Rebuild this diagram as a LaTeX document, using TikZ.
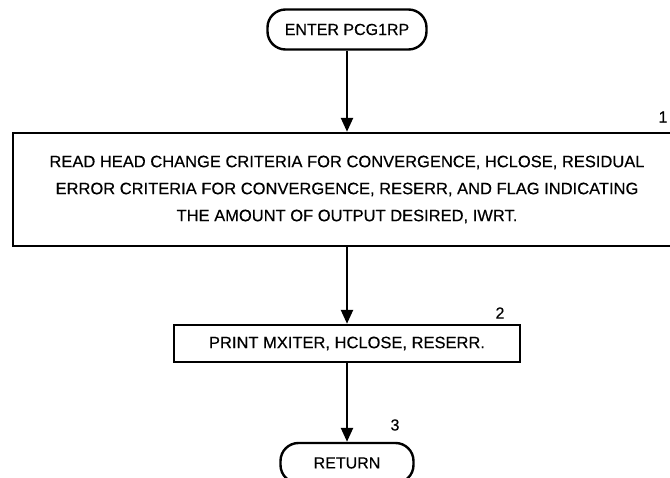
\documentclass[tikz,border=0pt]{standalone}
\usepackage{fontspec}
\setmainfont{Liberation Sans}
\newfontfamily\diafont[FakeBold=0.4]{Liberation Sans}
\usetikzlibrary{arrows.meta}
\begin{document}
\begin{tikzpicture}[x=1pt,y=-1pt,line width=2.4pt,
  term/.style={draw, rounded corners=18pt, minimum width=159pt, minimum height=40pt, inner sep=0pt, font=\diafont\fontsize{16}{19}\selectfont},
  procbox/.style={draw, inner sep=0pt, align=center, font=\diafont\fontsize{16.5}{27}\selectfont},
  flow/.style={-{Triangle[length=14pt,width=12pt]}, line width=2.4pt},
  num/.style={font=\diafont\fontsize{16}{19}\selectfont}]
\useasboundingbox (0,0) rectangle (670,478);
\clip (0,0) rectangle (670,478);
\node[term] (enter) at (347,29.5) {ENTER PCG1RP};
\node[procbox, minimum width=668pt, minimum height=113pt] (read) at (347,189.5)
  {READ HEAD CHANGE CRITERIA FOR CONVERGENCE, HCLOSE, RESIDUAL\\
   ERROR CRITERIA FOR CONVERGENCE, RESERR, AND FLAG INDICATING\\
   THE AMOUNT OF OUTPUT DESIRED, IWRT.};
\node[procbox, minimum width=346pt, minimum height=37pt] (print) at (347,343.5) {PRINT MXITER, HCLOSE, RESERR.};
\node[term, minimum width=133pt] (ret) at (347,463) {RETURN};
\node[num] (n1) at (663,117) {1};
\node[num] (n2) at (500,313) {2};
\node[num] (n3) at (395,425) {3};
\draw[flow] (enter) -- (read);
\draw[flow] (read) -- (print);
\draw[flow] (print) -- (ret);
\end{tikzpicture}
\end{document}
